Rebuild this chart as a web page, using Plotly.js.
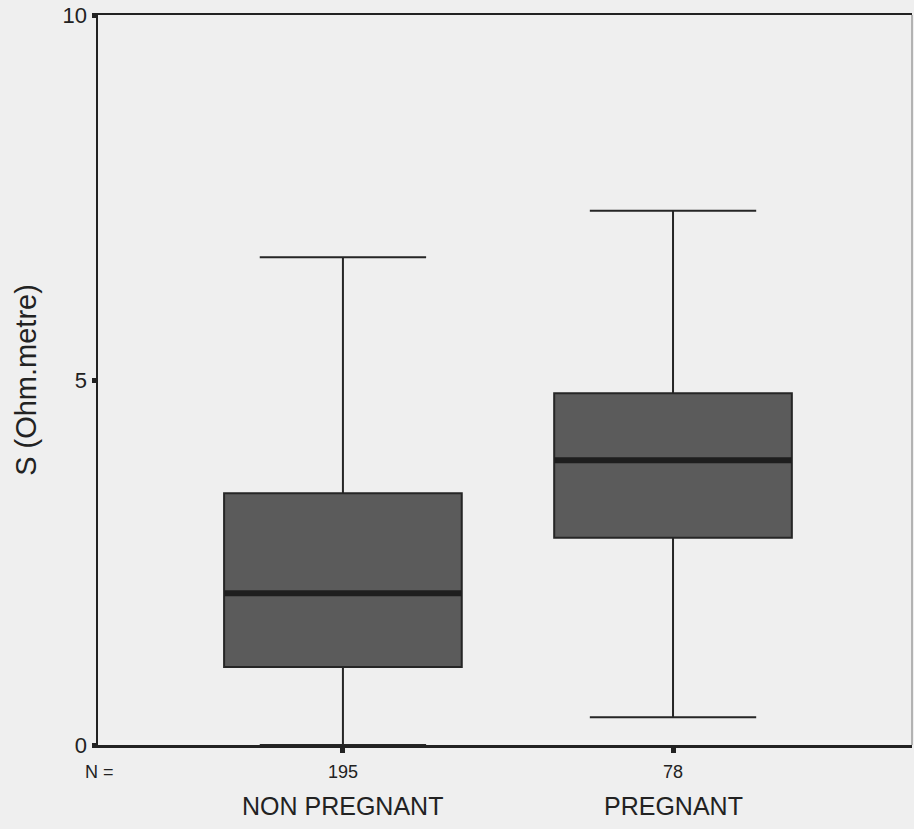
<!DOCTYPE html>
<html>
<head>
<meta charset="utf-8">
<script src="https://cdn.plot.ly/plotly-3.0.1.min.js"></script>
<style>html,body{margin:0;padding:0;background:#efefef;}</style>
</head>
<body>
<div id="chart" style="width:914px;height:829px;"></div>
<script>
const groups = ["NON PREGNANT", "PREGNANT"];
const counts = ["195", "78"];
const positions = [0, 1];
const lowerWhisker = [0.0, 0.38];
const q1 = [1.07, 2.84];
const median = [2.08, 3.90];
const q3 = [3.45, 4.82];
const upperWhisker = [6.68, 7.32];
const yTicks = [0, 5, 10];

const boxWidth = 0.72;
const traces = [{
  type: 'box',
  x: positions,
  q1: q1, median: median, q3: q3,
  lowerfence: lowerWhisker, upperfence: upperWhisker,
  width: boxWidth,
  whiskerwidth: 0.7,
  fillcolor: '#5b5b5b',
  line: {color: '#262626', width: 2},
  hoverinfo: 'none',
  showlegend: false
}];
// thick median lines
positions.forEach((p, i) => {
  traces.push({
    type: 'scatter', mode: 'lines',
    x: [p - boxWidth/2, p + boxWidth/2],
    y: [median[i], median[i]],
    line: {color: '#1e1e1e', width: 6},
    hoverinfo: 'none', showlegend: false
  });
});

const FONT = 'Liberation Sans, Arial, sans-serif';
const annotations = groups.map((g, i) => ({
  x: positions[i], y: 0, xref: 'x', yref: 'paper',
  yanchor: 'middle', yshift: -61, text: g, showarrow: false,
  font: {family: FONT, size: 25, color: '#222'}
}));
annotations.push({
  x: 0, y: 0, xref: 'paper', yref: 'paper', xanchor: 'left', yanchor: 'middle',
  xshift: -15, yshift: -27, text: 'N =', showarrow: false,
  font: {family: FONT, size: 18, color: '#222'}
});

const layout = {
  width: 914, height: 829,
  margin: {l: 98, r: 2, t: 15, b: 84},
  paper_bgcolor: '#efefef', plot_bgcolor: '#efefef',
  font: {family: FONT, color: '#222'},
  xaxis: {
    range: [-0.742, 1.724], tickvals: positions, ticktext: counts,
    ticks: 'outside', ticklen: 5, tickwidth: 5, tickcolor: '#222',
    ticklabelstandoff: 4,
    showline: true, linecolor: '#222', linewidth: 2.5, mirror: true,
    showgrid: false, zeroline: false,
    tickfont: {size: 18, color: '#222'}
  },
  yaxis: {
    range: [0, 10], tickvals: yTicks,
    ticks: 'outside', ticklen: 4, tickwidth: 5, tickcolor: '#222',
    showline: true, linecolor: '#222', linewidth: 2.5,
    showgrid: false, zeroline: false,
    tickfont: {size: 22, color: '#222'},
    title: {text: 'S (Ohm.metre)', font: {size: 29, color: '#222'}, standoff: 18}
  },
  shapes: [{
    type: 'line', xref: 'paper', yref: 'paper', x0: 1, x1: 1, y0: 0, y1: 1,
    line: {color: '#777', width: 1}
  }],
  annotations: annotations
};

Plotly.newPlot('chart', traces, layout, {displayModeBar: false, staticPlot: true});
</script>
</body>
</html>
